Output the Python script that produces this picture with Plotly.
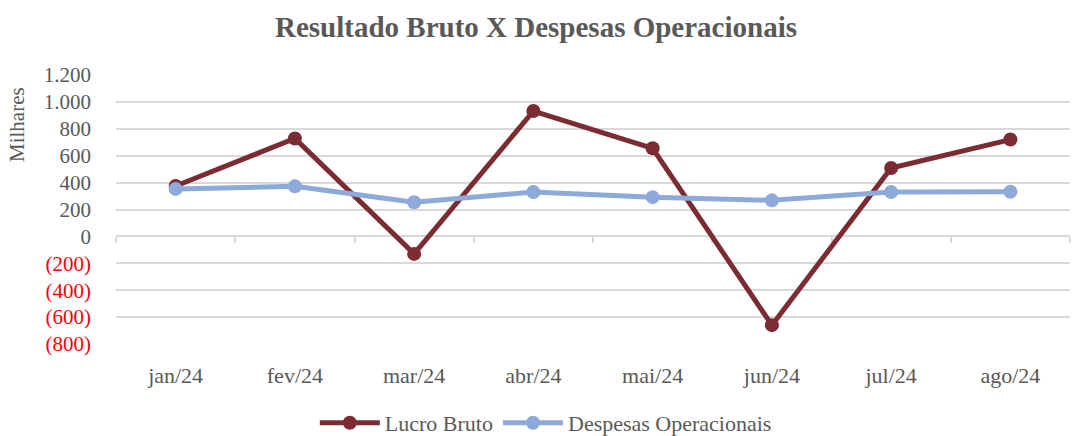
import plotly.graph_objects as go

months = ["jan/24", "fev/24", "mar/24", "abr/24", "mai/24", "jun/24", "jul/24", "ago/24"]
lucro_bruto = [375, 728, -130, 932, 655, -660, 508, 720]
despesas_operacionais = [353, 372, 254, 330, 292, 268, 330, 332]

y_ticks = [1200, 1000, 800, 600, 400, 200, 0, -200, -400, -600, -800]


def fmt(v):
    s = f"{abs(v):,}".replace(",", ".")
    if v < 0:
        return f"<span style='color:#ff0000'>({s})</span>"
    return s


x_idx = list(range(len(months)))
FONT = "Liberation Serif"
GREY = "#595959"
TS = 21
XS = 22

fig = go.Figure()
fig.add_trace(go.Scatter(
    x=x_idx, y=lucro_bruto, name="Lucro Bruto", mode="lines+markers",
    line=dict(color="#7b2c33", width=5), marker=dict(size=14, color="#7b2c33"),
))
fig.add_trace(go.Scatter(
    x=x_idx, y=despesas_operacionais, name="Despesas Operacionais", mode="lines+markers",
    line=dict(color="#8eaadb", width=5), marker=dict(size=14, color="#8eaadb"),
))
# invisible trace for the zero-line axis with category-boundary ticks
fig.add_trace(go.Scatter(x=[-0.5, len(months) - 0.5], y=[0, 0], xaxis="x2",
                         mode="markers", marker=dict(opacity=0), showlegend=False, hoverinfo="skip"))

fig.update_layout(
    width=1072, height=436,
    paper_bgcolor="white", plot_bgcolor="white",
    margin=dict(l=116, r=2, t=75, b=92, autoexpand=False),
    font=dict(family=FONT, size=TS, color=GREY),
    title=dict(text="<b>Resultado Bruto X Despesas Operacionais</b>", x=0.5, xanchor="center",
               y=1 - 27 / 436, yanchor="middle", font=dict(family=FONT, size=29, color=GREY)),
    xaxis=dict(range=[-0.5, len(months) - 0.5], tickvals=x_idx, ticktext=months,
               showgrid=False, showline=False, zeroline=False, ticks="",
               tickfont=dict(size=XS, color=GREY), ticklabelstandoff=16),
    xaxis2=dict(range=[-0.5, len(months) - 0.5], overlaying="x", anchor="free", position=0.4,
                side="bottom", showgrid=False, zeroline=False, showline=True, linecolor="#d9d9d9",
                linewidth=1.5, ticks="outside", ticklen=6, tickcolor="#d9d9d9", tickwidth=1.5,
                layer="below traces",
                tickvals=[i - 0.5 for i in range(len(months) + 1)], showticklabels=False),
    yaxis=dict(range=[-800, 1200], tickvals=y_ticks, ticktext=[fmt(v) for v in y_ticks],
               showgrid=True, gridcolor="#d9d9d9", gridwidth=1.5, zeroline=False,
               showline=False, ticks="", tickfont=dict(size=TS, color=GREY), ticklabelstandoff=24),
    legend=dict(orientation="h", xref="paper", x=0.5 - 53 / 1072, xanchor="center",
                y=-(423 - 344) / 269, yanchor="middle",
                font=dict(size=XS, color=GREY), itemwidth=60, tracegroupgap=0),
    annotations=[dict(text="Milhares", textangle=-90, xref="paper", yref="paper",
                      x=(17 - 116) / 954, y=1 - (125 - 75) / 269, xanchor="center", yanchor="middle",
                      showarrow=False, font=dict(size=TS, color=GREY))],
)

fig.write_html("out.html", config={"displayModeBar": False},
               post_script="document.body.style.margin='0';")
